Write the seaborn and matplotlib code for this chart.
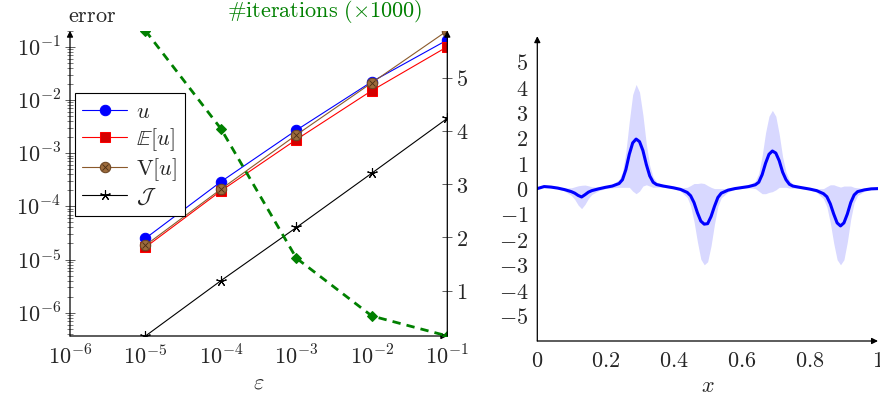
import matplotlib
matplotlib.use('Agg')
import matplotlib.pyplot as plt
import numpy as np
import pandas as pd
import seaborn as sns
from matplotlib.legend_handler import HandlerTuple

# left panel: errors vs epsilon
eps = [1e-5, 1e-4, 1e-3, 1e-2, 1e-1]
err_u = [2.5e-5, 2.9e-4, 2.7e-3, 2.2e-2, 0.134]
err_mean = [1.7e-5, 1.95e-4, 1.8e-3, 1.5e-2, 0.1]
err_var = [1.85e-5, 2.1e-4, 2.2e-3, 2.1e-2, 0.2]
err_J = [3.65e-7, 4.0e-6, 4.0e-5, 4.2e-4, 4.5e-3]
iters = [5.88, 4.04, 1.61, 0.525, 0.15]   # x1000

# right panel: mean and spread of the solution
xs = [0, 0.02, 0.04, 0.06, 0.08, 0.1, 0.11, 0.12, 0.13, 0.14, 0.15, 0.16, 0.18, 0.2,
      0.22, 0.24, 0.25, 0.26, 0.27, 0.28, 0.29, 0.30, 0.31, 0.32, 0.33, 0.34, 0.35,
      0.37, 0.4, 0.42, 0.44, 0.45, 0.46, 0.47, 0.48, 0.49, 0.50, 0.51, 0.52, 0.53,
      0.54, 0.56, 0.58, 0.6, 0.62, 0.64, 0.65, 0.66, 0.67, 0.68, 0.69, 0.70, 0.71,
      0.72, 0.73, 0.74, 0.75, 0.77, 0.8, 0.82, 0.84, 0.85, 0.86, 0.87, 0.88, 0.89,
      0.90, 0.91, 0.92, 0.93, 0.94, 0.96, 0.98, 1.0]
mean_u = [0.0, 0.08, 0.06, 0.02, -0.04, -0.12, -0.18, -0.27, -0.33, -0.24, -0.14, -0.08,
          -0.01, 0.05, 0.1, 0.2, 0.35, 0.75, 1.35, 1.8, 1.95, 1.85, 1.5, 0.95, 0.5, 0.25,
          0.16, 0.1, 0.03, -0.03, -0.15, -0.28, -0.55, -0.95, -1.28, -1.4, -1.38, -1.1,
          -0.7, -0.35, -0.18, -0.06, 0.0, 0.04, 0.08, 0.15, 0.25, 0.55, 1.0, 1.35, 1.48,
          1.4, 1.1, 0.65, 0.35, 0.17, 0.1, 0.05, -0.02, -0.08, -0.2, -0.32, -0.6, -1.0,
          -1.35, -1.47, -1.35, -1.0, -0.55, -0.25, -0.12, -0.05, -0.01, 0.0]
spread_u = [0.0, 0.01, 0.02, 0.03, 0.06, 0.15, 0.25, 0.38, 0.46, 0.38, 0.25, 0.15, 0.07,
            0.05, 0.07, 0.15, 0.3, 0.7, 1.3, 1.9, 2.15, 1.95, 1.4, 0.8, 0.4, 0.2, 0.1,
            0.05, 0.03, 0.06, 0.2, 0.4, 0.75, 1.15, 1.5, 1.6, 1.5, 1.15, 0.7, 0.35, 0.18,
            0.07, 0.03, 0.03, 0.05, 0.15, 0.35, 0.75, 1.2, 1.5, 1.6, 1.45, 1.05, 0.6, 0.3,
            0.15, 0.08, 0.04, 0.03, 0.07, 0.2, 0.4, 0.75, 1.15, 1.45, 1.53, 1.45, 1.1,
            0.65, 0.3, 0.15, 0.05, 0.02, 0.0]

sns.set_style("white")
plt.rcParams['mathtext.fontset'] = 'cm'
plt.rcParams['font.family'] = ['DejaVu Serif']
FS = 16
GREEN = '#008000'
TICKC = '#444444'

fig = plt.figure(figsize=(8.8, 4), dpi=100)


def arrow_axis(ax, vertical=True, at=0.0):
    if vertical:
        start, end = (at, 0), (at, 1.0)
    else:
        start, end = (0, at), (1.0, at)
    ax.annotate('', xy=end, xytext=start, xycoords='axes fraction',
                arrowprops=dict(arrowstyle='-|>', lw=0.9, color='black',
                                mutation_scale=9, shrinkA=0, shrinkB=0))


# ---------- left panel ----------
ax = fig.add_axes([70 / 880, 64 / 400, 377.3 / 880, 305.3 / 400])
ax.set_xscale('log')
ax.set_yscale('log')
lw = 0.8
ms = 7.5
sns.lineplot(x=eps, y=err_u, ax=ax, color='blue', lw=lw, marker='o', markersize=ms,
             markeredgecolor='blue', markerfacecolor='blue', estimator=None)
sns.lineplot(x=eps, y=err_mean, ax=ax, color='red', lw=lw, marker='s', markersize=ms - 0.5,
             markeredgecolor='red', markerfacecolor='#d40000', estimator=None)
sns.lineplot(x=eps, y=err_var, ax=ax, color='#8b5a2b', lw=lw, marker='o', markersize=ms,
             markeredgecolor='#6b4523', markerfacecolor='#9c6b3c', estimator=None)
ax.plot(eps, err_var, ls='none', marker='x', markersize=ms * 0.6, markeredgewidth=0.6,
        color='#4a2e14')
sns.lineplot(x=eps, y=err_J, ax=ax, color='black', lw=lw, marker=(5, 2, 0), markersize=ms,
             markeredgewidth=0.8, markeredgecolor='black', estimator=None)

ax.set_xlim(1e-6, 1e-1)
ax.set_ylim(3.65e-7, 0.2)
ax.set_xticks([1e-6, 1e-5, 1e-4, 1e-3, 1e-2, 1e-1])
ax.set_xticklabels([r'$10^{-%d}$' % k for k in [6, 5, 4, 3, 2, 1]], fontsize=FS)
ax.set_yticks([1e-6, 1e-5, 1e-4, 1e-3, 1e-2, 1e-1])
ax.set_yticklabels([r'$10^{-%d}$' % k for k in [6, 5, 4, 3, 2, 1]], fontsize=FS)
ax.xaxis.set_minor_locator(matplotlib.ticker.LogLocator(base=10, subs=np.arange(2, 10), numticks=20))
ax.yaxis.set_minor_locator(matplotlib.ticker.LogLocator(base=10, subs=np.arange(2, 10), numticks=20))
ax.xaxis.set_minor_formatter(matplotlib.ticker.NullFormatter())
ax.yaxis.set_minor_formatter(matplotlib.ticker.NullFormatter())
ax.tick_params(which='major', direction='inout', length=7, width=0.6, color=TICKC, pad=3)
ax.tick_params(which='minor', direction='inout', length=4, width=0.5, color=TICKC)
for s in ['top', 'right', 'left', 'bottom']:
    ax.spines[s].set_visible(False)
arrow_axis(ax, True, 0.0)
arrow_axis(ax, False, 0.0)
ax.set_xlabel(r'$\varepsilon$', fontsize=FS, labelpad=2)
ax.set_ylabel('')
ax.text(0.058, 1.047, r'$\mathrm{error}$', transform=ax.transAxes, fontsize=FS,
        ha='center', va='center')

ax2 = ax.twinx()
sns.lineplot(x=eps, y=iters, ax=ax2, color=GREEN, lw=2.0, ls=(0, (3.0, 2.2)), marker='D',
             markersize=5.5, markeredgecolor=GREEN, markerfacecolor=GREEN, estimator=None)
ax2.set_ylim(0.149, 5.88)
ax2.set_yticks([1, 2, 3, 4, 5])
ax2.set_yticklabels([r'$%d$' % k for k in [1, 2, 3, 4, 5]], fontsize=FS)
ax2.tick_params(which='major', direction='inout', length=7, width=0.6, color=TICKC, pad=3)
ax2.set_ylabel('')
for s in ['top', 'right', 'left', 'bottom']:
    ax2.spines[s].set_visible(False)
arrow_axis(ax2, True, 1.0)
ax2.text(0.676, 1.062, r'$\#\mathrm{iterations}\ (\times 1000)$', transform=ax2.transAxes,
         fontsize=FS, color=GREEN, ha='center', va='center')

h = ax.get_lines()
handles = [h[0], h[1], (h[2], h[3]), h[4]]
labels = [r'$u$', r'$\mathbb{E}[u]$', r'$\mathrm{V}[u]$', r'$\mathcal{J}$']
leg = ax2.legend(handles, labels, loc='upper left', bbox_to_anchor=(0.0125, 0.796),
                 fontsize=FS, frameon=True, fancybox=False, edgecolor='black',
                 framealpha=1, borderpad=0.35, handlelength=2.0, handletextpad=0.4,
                 labelspacing=0.15, borderaxespad=0,
                 handler_map={tuple: HandlerTuple(ndivide=1)})
leg.get_frame().set_linewidth(0.8)

# ---------- right panel ----------
bx = fig.add_axes([537.3 / 880, 59 / 400, 340.7 / 880, 304.8 / 400])
df = pd.DataFrame({'x': xs, 'mean': mean_u, 'spread': spread_u})
bx.fill_between(df['x'], df['mean'] - df['spread'], df['mean'] + df['spread'],
                color='#d8d8ff', lw=0)
sns.lineplot(data=df, x='x', y='mean', ax=bx, color='blue', lw=2.2, estimator=None)
bx.set_xlim(0, 1)
bx.set_ylim(-6, 6)
bx.set_xticks([0, 0.2, 0.4, 0.6, 0.8, 1])
bx.set_xticklabels([r'$0$', r'$0.2$', r'$0.4$', r'$0.6$', r'$0.8$', r'$1$'], fontsize=FS)
bx.set_yticks(range(-5, 6))
bx.set_yticklabels([r'$%d$' % k for k in range(-5, 6)], fontsize=FS)
bx.tick_params(which='major', direction='inout', length=7, width=0.6, color=TICKC, pad=3)
for s in ['top', 'right', 'left', 'bottom']:
    bx.spines[s].set_visible(False)
arrow_axis(bx, True, 0.0)
arrow_axis(bx, False, 0.0)
bx.set_xlabel(r'$x$', fontsize=FS, labelpad=2)
bx.set_ylabel('')

fig.savefig('out.png', dpi=100)
